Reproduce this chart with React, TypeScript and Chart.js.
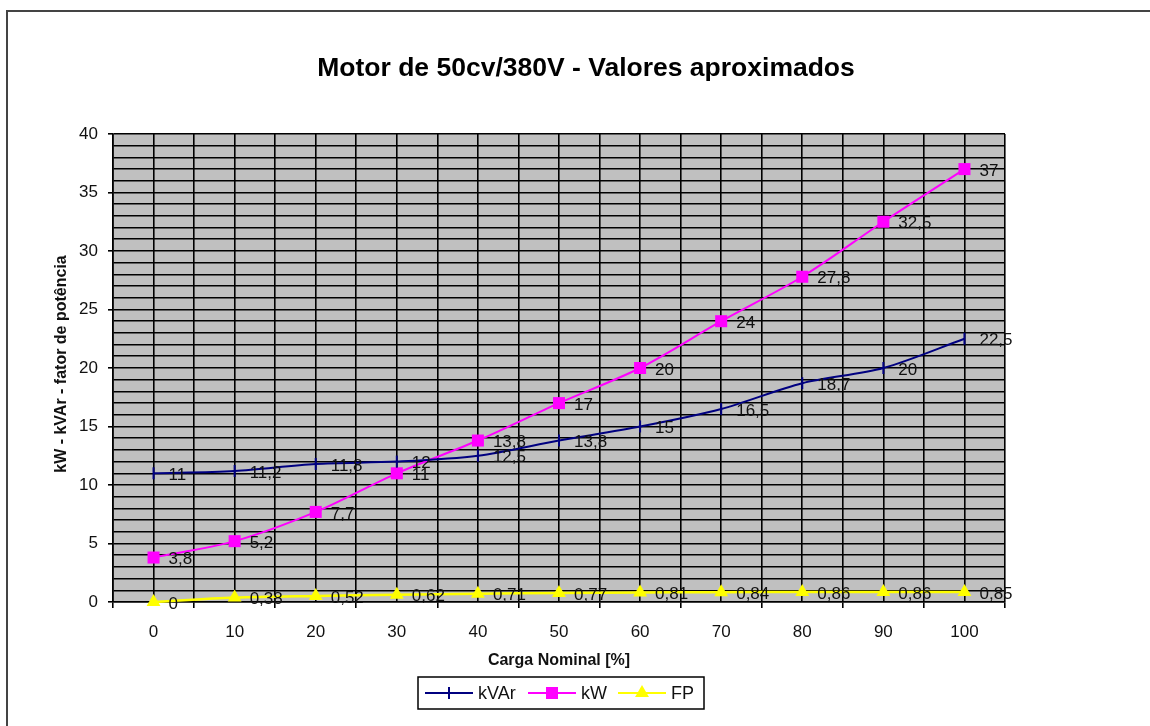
import { useEffect, useRef } from 'react';
import { Chart, registerables } from 'chart.js';

Chart.register(...registerables);

// Load points (% of nominal) and measured quantities
const loads = [0, 10, 20, 30, 40, 50, 60, 70, 80, 90, 100];
const kvar = [11, 11.2, 11.8, 12, 12.5, 13.8, 15, 16.5, 18.7, 20, 22.5];
const kw = [3.8, 5.2, 7.7, 11, 13.8, 17, 20, 24, 27.8, 32.5, 37];
const fp = [0, 0.38, 0.52, 0.62, 0.71, 0.77, 0.81, 0.84, 0.86, 0.86, 0.85];

const seriesNames = ['kVAr', 'kW', 'FP'];
const seriesColors = ['#000080', '#ff00ff', '#ffff00'];

const titleText = 'Motor de 50cv/380V - Valores aproximados';
const xTitle = 'Carga Nominal [%]';
const yTitle = 'kW - kVAr - fator de potência';

const FONT = '"Liberation Sans", Arial, Helvetica, sans-serif';

const fmt = (v: number) => String(v).replace('.', ',');

function drawMarker(ctx: CanvasRenderingContext2D, style: string, x: number, y: number, color: string) {
  ctx.save();
  ctx.fillStyle = color;
  ctx.strokeStyle = color;
  if (style === 'line') {
    ctx.lineWidth = 2;
    ctx.beginPath();
    ctx.moveTo(x, y - 6);
    ctx.lineTo(x, y + 6);
    ctx.stroke();
  } else if (style === 'rect') {
    ctx.fillRect(x - 6, y - 6, 12, 12);
  } else {
    const r = 8;
    ctx.beginPath();
    ctx.moveTo(x, y - r);
    ctx.lineTo(x + r * 0.866, y + r * 0.5);
    ctx.lineTo(x - r * 0.866, y + r * 0.5);
    ctx.closePath();
    ctx.fill();
  }
  ctx.restore();
}

const decorPlugin = {
  id: 'decor',
  beforeDraw(chart: any) {
    const { ctx, chartArea: a, width, height } = chart;
    ctx.save();
    ctx.fillStyle = '#ffffff';
    ctx.fillRect(0, 0, width, height);
    ctx.fillStyle = '#c0c0c0';
    ctx.fillRect(a.left, a.top, a.right - a.left, a.bottom - a.top);

    // outer frame of the chart object
    ctx.strokeStyle = '#444444';
    ctx.lineWidth = 2;
    ctx.beginPath();
    ctx.moveTo(7, height);
    ctx.lineTo(7, 11);
    ctx.lineTo(width, 11);
    ctx.stroke();

    // chart title
    ctx.fillStyle = '#000';
    ctx.textAlign = 'center';
    ctx.textBaseline = 'middle';
    ctx.font = `bold 26.5px ${FONT}`;
    ctx.fillText(titleText, 586, 69);

    // axis titles
    ctx.font = `bold 16px ${FONT}`;
    ctx.fillStyle = '#111';
    ctx.fillText(xTitle, (a.left + a.right) / 2, 661);
    ctx.save();
    ctx.translate(62, (a.top + a.bottom) / 2 - 4);
    ctx.rotate(-Math.PI / 2);
    ctx.fillText(yTitle, 0, 0);
    ctx.restore();
    ctx.restore();
  },
  afterDatasetsDraw(chart: any) {
    const { ctx } = chart;
    ctx.save();
    ctx.fillStyle = '#111';
    ctx.font = `17px ${FONT}`;
    ctx.textAlign = 'left';
    ctx.textBaseline = 'middle';
    chart.data.datasets.forEach((ds: any, i: number) => {
      const meta = chart.getDatasetMeta(i);
      meta.data.forEach((pt: any, j: number) => {
        ctx.fillText(fmt(ds.data[j].y), pt.x + 15, pt.y + 2);
      });
    });
    ctx.restore();
  },
  afterDraw(chart: any) {
    const { ctx } = chart;
    ctx.save();
    // legend box
    ctx.strokeStyle = '#000';
    ctx.lineWidth = 1.5;
    ctx.strokeRect(418, 677, 286, 32);
    const starts = [425, 528, 618];
    const styles = ['line', 'rect', 'triangle'];
    ctx.font = `18px ${FONT}`;
    ctx.textBaseline = 'middle';
    ctx.textAlign = 'left';
    const y = 693;
    seriesNames.forEach((name, i) => {
      const x0 = starts[i];
      ctx.strokeStyle = seriesColors[i];
      ctx.lineWidth = 2;
      ctx.beginPath();
      ctx.moveTo(x0, y);
      ctx.lineTo(x0 + 48, y);
      ctx.stroke();
      drawMarker(ctx, styles[i], x0 + 24, y, seriesColors[i]);
      ctx.fillStyle = '#111';
      ctx.fillText(name, x0 + 53, y + 1);
    });
    ctx.restore();
  },
};

export default function App() {
  const ref = useRef<HTMLCanvasElement | null>(null);

  useEffect(() => {
    if (!ref.current) return;
    const pts = (vals: number[]) => loads.map((x, i) => ({ x, y: vals[i] }));
    const chart = new Chart(ref.current, {
      type: 'line',
      data: {
        datasets: [
          {
            label: seriesNames[0],
            data: pts(kvar),
            borderColor: seriesColors[0],
            backgroundColor: seriesColors[0],
            borderWidth: 2,
            pointStyle: 'line',
            pointRotation: 90,
            pointRadius: 6,
            pointBorderWidth: 2,
            pointBorderColor: seriesColors[0],
            tension: 0.3,
            clip: false,
          },
          {
            label: seriesNames[1],
            data: pts(kw),
            borderColor: seriesColors[1],
            backgroundColor: seriesColors[1],
            borderWidth: 2,
            pointStyle: 'rect',
            pointRadius: 8.5,
            pointBorderWidth: 0,
            pointBackgroundColor: seriesColors[1],
            tension: 0.3,
            clip: false,
          },
          {
            label: seriesNames[2],
            data: pts(fp),
            borderColor: seriesColors[2],
            backgroundColor: seriesColors[2],
            borderWidth: 2.5,
            pointStyle: 'triangle',
            pointRadius: 8,
            pointBorderWidth: 0,
            pointBackgroundColor: seriesColors[2],
            tension: 0.3,
            clip: false,
          },
        ],
      },
      options: {
        responsive: false,
        animation: false,
        events: [],
        layout: { padding: { top: 134, right: 145, left: 0, bottom: 0 } },
        plugins: {
          legend: { display: false },
          title: { display: false },
          tooltip: { enabled: false },
        },
        scales: {
          x: {
            type: 'linear',
            min: -5,
            max: 105,
            afterFit: (s: any) => {
              s.height = 124;
            },
            ticks: {
              stepSize: 5,
              autoSkip: false,
              maxRotation: 0,
              padding: 14,
              color: '#111',
              font: { family: FONT, size: 17 },
              callback: (v: any) => (Number(v) % 10 === 0 ? String(v) : ''),
            },
            grid: {
              color: '#000',
              lineWidth: 1.6,
              tickLength: 6,
              tickColor: (c: any) =>
                c.tick && Math.abs(c.tick.value % 10) === 5 ? '#000' : 'rgba(0,0,0,0)',
            },
            border: { color: '#000', width: 1.6 },
          },
          y: {
            type: 'linear',
            min: 0,
            max: 40,
            afterFit: (s: any) => {
              s.width = 113;
            },
            ticks: {
              stepSize: 1,
              autoSkip: false,
              padding: 10,
              color: '#111',
              font: { family: FONT, size: 17 },
              callback: (v: any) => (Number(v) % 5 === 0 ? String(v) : ''),
            },
            grid: {
              color: '#000',
              lineWidth: 1.6,
              tickLength: 5,
              tickColor: (c: any) =>
                c.tick && c.tick.value % 5 === 0 ? '#000' : 'rgba(0,0,0,0)',
            },
            border: { color: '#000', width: 1.6 },
          },
        },
      },
      plugins: [decorPlugin],
    });
    return () => chart.destroy();
  }, []);

  return (
    <div style={{ position: 'fixed', left: 0, top: 0, width: 1150, height: 726, background: '#fff' }}>
      <canvas ref={ref} width={1150} height={726} style={{ display: 'block' }} />
    </div>
  );
}
